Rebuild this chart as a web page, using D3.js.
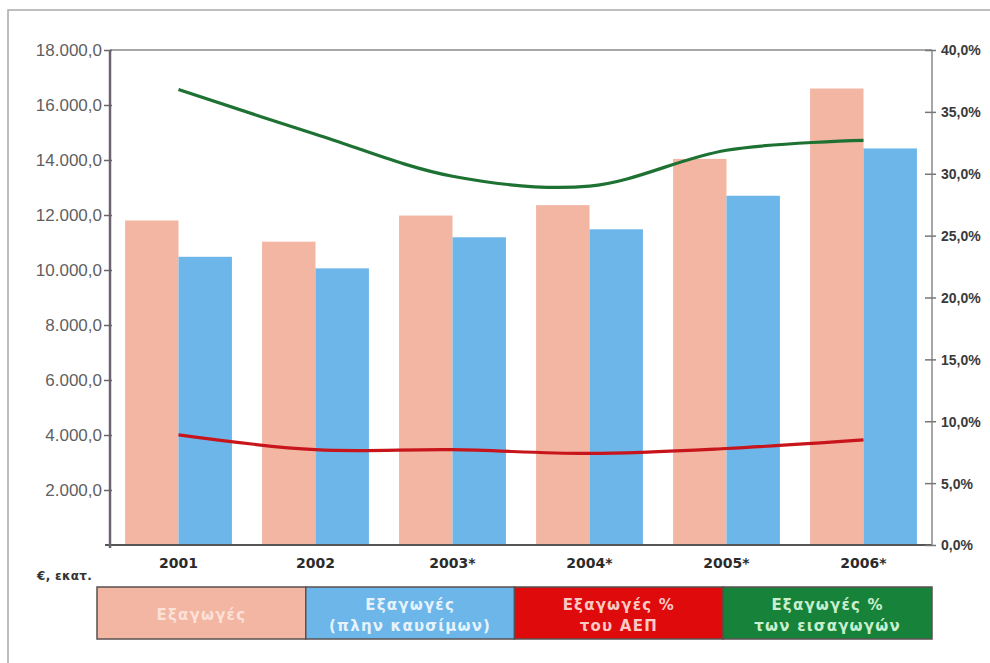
<!DOCTYPE html>
<html>
<head>
<meta charset="utf-8">
<script src="https://cdn.jsdelivr.net/npm/d3@7"></script>
<style>
  body { margin: 0; background: #fff; }
  svg { font-family: "DejaVu Sans", Verdana, sans-serif; }
</style>
</head>
<body>
<div id="chart"></div>
<script>
// data
const years = ["2001", "2002", "2003*", "2004*", "2005*", "2006*"];
const exportsTotal = [11800, 11030, 11980, 12360, 14040, 16600];
const exportsNoFuel = [10480, 10060, 11190, 11480, 12700, 14420];
const pctOfGdp = [8.9, 7.7, 7.7, 7.4, 7.8, 8.5];
const pctOfImports = [36.8, 33.2, 29.8, 29.0, 31.9, 32.7];
const leftTicks = [2000, 4000, 6000, 8000, 10000, 12000, 14000, 16000, 18000];
const rightTicks = [0, 5, 10, 15, 20, 25, 30, 35, 40];
const legendItems = [
  {lines: ["Εξαγωγές"], fill: "#f2b6a3", text: "#fbe1d7"},
  {lines: ["Εξαγωγές", "(πλην καυσίμων)"], fill: "#6cb6ea", text: "#e6f3fc"},
  {lines: ["Εξαγωγές %", "του ΑΕΠ"], fill: "#df0a0c", text: "#f9c9c4"},
  {lines: ["Εξαγωγές %", "των  εισαγωγών"], fill: "#17833a", text: "#c9efcf"}
];

const W = 990, H = 663;
const m = {left: 110, right: 932, top: 50, bottom: 545};

const svg = d3.select("#chart").append("svg")
  .attr("width", W).attr("height", H);

// outer frame
svg.append("path")
  .attr("d", `M8,${H} V10 H${W}`)
  .attr("fill", "none").attr("stroke", "#a9a9a9").attr("stroke-width", 1.5);

const x0 = d3.scaleBand().domain(years).range([m.left, m.right])
  .paddingInner(0.22).paddingOuter(0.11);
const x1 = d3.scaleBand().domain(["total", "nofuel"]).range([0, x0.bandwidth()]);
const y = d3.scaleLinear().domain([0, 18000]).range([m.bottom, m.top]);
const y2 = d3.scaleLinear().domain([0, 40]).range([m.bottom, m.top]);

const fmtL = d3.formatLocale({decimal: ",", thousands: ".", grouping: [3], currency: ["", "€"]});
const fmtLeft = fmtL.format(",.1f");
const fmtRight = d => fmtL.format(".1f")(d) + "%";

// bars
const groups = svg.selectAll(".grp").data(years).enter().append("g")
  .attr("transform", d => `translate(${x0(d)},0)`);
groups.append("rect")
  .attr("x", x1("total")).attr("width", x1.bandwidth())
  .attr("y", (d, i) => y(exportsTotal[i]))
  .attr("height", (d, i) => m.bottom - y(exportsTotal[i]))
  .attr("fill", legendItems[0].fill);
groups.append("rect")
  .attr("x", x1("nofuel")).attr("width", x1.bandwidth())
  .attr("y", (d, i) => y(exportsNoFuel[i]))
  .attr("height", (d, i) => m.bottom - y(exportsNoFuel[i]))
  .attr("fill", legendItems[1].fill);

// lines
const cx = d => x0(d) + x0.bandwidth() / 2;
const line = d3.line().x(d => cx(d.year)).y(d => y2(d.v)).curve(d3.curveCatmullRom);
svg.append("path")
  .datum(years.map((yr, i) => ({year: yr, v: pctOfGdp[i]})))
  .attr("d", line).attr("fill", "none")
  .attr("stroke", "#c8151b").attr("stroke-width", 3.2);
svg.append("path")
  .datum(years.map((yr, i) => ({year: yr, v: pctOfImports[i]})))
  .attr("d", line).attr("fill", "none")
  .attr("stroke", "#1d7233").attr("stroke-width", 3.2);

// frame lines of the plot
svg.append("line").attr("x1", m.left).attr("x2", m.right).attr("y1", m.top).attr("y2", m.top)
  .attr("stroke", "#8a8a8a").attr("stroke-width", 1.5);
svg.append("line").attr("x1", m.left - 5).attr("x2", m.right).attr("y1", m.bottom).attr("y2", m.bottom)
  .attr("stroke", "#555").attr("stroke-width", 2);

// left axis
const yAxis = d3.axisLeft(y).tickValues(leftTicks).tickFormat(fmtLeft).tickSize(6).tickPadding(2);
const gL = svg.append("g").attr("transform", `translate(${m.left},0)`).call(yAxis);
gL.select(".domain").attr("d", `M0,${m.top}V${m.bottom + 3}`).attr("stroke", "#6b6470").attr("stroke-width", 2.5);
gL.selectAll(".tick line").attr("stroke", "#6b6470").attr("stroke-width", 1.5).attr("x2", -6).attr("x1", 2);
gL.selectAll(".tick text").attr("fill", "#5f5f5f").attr("font-size", 17).attr("dy", "0.35em");

// right axis
const yAxisR = d3.axisRight(y2).tickValues(rightTicks).tickFormat(fmtRight).tickSize(5).tickPadding(4);
const gR = svg.append("g").attr("transform", `translate(${m.right},0)`).call(yAxisR);
gR.select(".domain").attr("d", `M0,${m.top}V${m.bottom}`).attr("stroke", "#8a8a8a").attr("stroke-width", 1.5);
gR.selectAll(".tick line").attr("stroke", "#777").attr("stroke-width", 1.5).attr("x1", -7).attr("x2", 4);
gR.selectAll(".tick text").attr("fill", "#3a3a3a").attr("font-size", 14).attr("font-weight", "bold")
  .attr("dy", "0.35em");

// x labels
svg.selectAll(".xlab").data(years).enter().append("text")
  .attr("x", d => cx(d)).attr("y", 568)
  .attr("text-anchor", "middle").attr("font-size", 14).attr("font-weight", "bold")
  .attr("fill", "#2b2b2b").text(d => d);

svg.append("text").attr("x", 37).attr("y", 580)
  .attr("font-size", 12).attr("font-weight", "bold").attr("fill", "#333")
  .style("letter-spacing", "0.3px")
  .text("€, εκατ.");

// legend
const legW = (m.right - 97) / legendItems.length;
const leg = svg.selectAll(".leg").data(legendItems).enter().append("g")
  .attr("transform", (d, i) => `translate(${97 + i * legW},587)`);
leg.append("rect").attr("width", legW).attr("height", 52)
  .attr("fill", d => d.fill).attr("stroke", "#5a5050").attr("stroke-width", 1.5);
leg.each(function(d) {
  const g = d3.select(this);
  const n = d.lines.length;
  d.lines.forEach((t, j) => {
    g.append("text").attr("x", legW / 2)
      .attr("y", 28 + (j - (n - 1) / 2) * 21).attr("dy", "0.35em")
      .attr("text-anchor", "middle").attr("font-size", 15).attr("font-weight", "bold")
      .attr("fill", d.text).style("letter-spacing", "1.2px").text(t);
  });
});
</script>
</body>
</html>
